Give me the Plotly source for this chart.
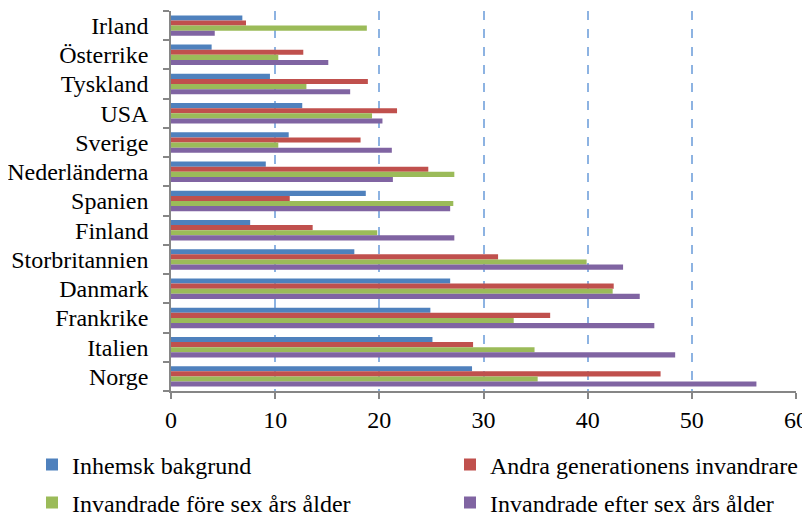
import plotly.graph_objects as go

countries = ["Irland", "Österrike", "Tyskland", "USA", "Sverige", "Nederländerna",
             "Spanien", "Finland", "Storbritannien", "Danmark", "Frankrike", "Italien", "Norge"]

inhemsk = [6.85, 3.9, 9.5, 12.6, 11.3, 9.1, 18.7, 7.6, 17.6, 26.8, 24.9, 25.1, 28.9]
andra_gen = [7.2, 12.7, 18.9, 21.7, 18.2, 24.7, 11.4, 13.6, 31.4, 42.5, 36.4, 29.0, 47.0]
fore_sex = [18.8, 10.3, 13.0, 19.3, 10.3, 27.2, 27.1, 19.8, 39.9, 42.4, 32.9, 34.9, 35.2]
efter_sex = [4.2, 15.1, 17.2, 20.3, 21.2, 21.3, 26.8, 27.2, 43.4, 45.0, 46.4, 48.4, 56.2]

series_names = ["Inhemsk bakgrund", "Andra generationens invandrare",
                "Invandrade före sex års ålder", "Invandrade efter sex års ålder"]
colors = ["#4F81BD", "#C0504D", "#9BBB59", "#8064A2"]
legend_ids = ["legend", "legend2", "legend3", "legend4"]

# The page body adds an 8px offset, so the figure is drawn 8px smaller.
W, H = 802, 509
# legend anchor positions in figure pixels (left, vertical centre)
legend_pos = [(24, 457), (442, 457), (24, 495), (442, 495)]

x_ticks = [0, 10, 20, 30, 40, 50, 60]

FONT = "Liberation Serif"

fig = go.Figure()
for name, vals, col, lg in zip(series_names, [inhemsk, andra_gen, fore_sex, efter_sex], colors, legend_ids):
    fig.add_trace(go.Bar(
        y=countries, x=vals, name=name, orientation="h",
        marker=dict(color=col, line=dict(width=0)),
        legend=lg,
    ))

legend_layout = {}
for lg, (lx, ly) in zip(legend_ids, legend_pos):
    legend_layout[lg] = dict(
        orientation="h",
        xref="container", yref="container",
        x=lx / W, y=1 - ly / H,
        xanchor="left", yanchor="middle",
        font=dict(family=FONT, size=24, color="black"),
        bgcolor="rgba(0,0,0,0)",
        itemclick=False, itemdoubleclick=False,
    )

fig.update_layout(
    template="none",
    width=W, height=H,
    margin=dict(l=163, r=14, t=3, b=126, autoexpand=False),
    paper_bgcolor="white", plot_bgcolor="white",
    barmode="group", bargap=0.3, bargroupgap=0,
    font=dict(family=FONT, size=24, color="black"),
    showlegend=True,
    xaxis=dict(
        range=[0, 60], tickmode="array", tickvals=x_ticks, ticktext=[str(v) for v in x_ticks],
        showgrid=True, gridcolor="#8DB3E2", griddash="dash", gridwidth=1.5,
        zeroline=False, automargin=False,
        showline=True, linecolor="#868686", linewidth=1.5,
        ticks="outside", ticklen=6, tickcolor="#868686", tickwidth=1.5,
        tickfont=dict(family=FONT, size=24, color="black"),
        fixedrange=True,
    ),
    yaxis=dict(
        type="category", autorange="reversed",
        tickmode="array", tickvals=countries, ticktext=countries,
        showgrid=False, zeroline=False, automargin=False,
        showline=True, linecolor="#868686", linewidth=1.5,
        ticks="outside", tickson="boundaries", ticklen=6, tickcolor="#868686", tickwidth=1.5,
        tickfont=dict(family=FONT, size=24, color="black"),
        ticklabelstandoff=16,
        fixedrange=True,
    ),
    **legend_layout,
)

fig.write_html("out.html")
